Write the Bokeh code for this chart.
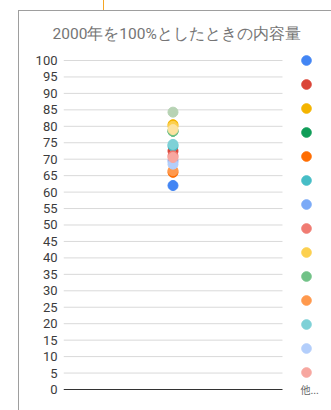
from bokeh.plotting import figure
from bokeh.models import (Legend, LegendItem, Range1d, ColumnDataSource, FixedTicker, Label,
                          InlineStyleSheet)
from bokeh.embed import file_html
from bokeh.resources import INLINE

title = "2000年を100%としたときの内容量"
# series shown in the legend
series_names = ["系列1", "系列2", "系列3", "系列4", "系列5", "系列6", "系列7",
                "系列8", "系列9", "系列10", "系列11", "系列12", "系列13", "系列14"]
series_values = [62.0, 72.5, 80.5, 78.5, 66.0, 74.0, 69.5,
                 71.0, 80.0, 78.5, 66.5, 74.5, 68.5, 70.5]
series_colors = ["#4285F4", "#DB4437", "#F4B400", "#0F9D58", "#FF6D01", "#46BDC6", "#7BAAF7",
                 "#F07B72", "#FCD04F", "#71C287", "#FF994D", "#7ED1D7", "#B3CEFB", "#F7A7A0"]
# further series folded into "他..."
extra_names = ["系列15", "系列16"]
extra_values = [79.0, 84.3]
extra_colors = ["#FCE3A0", "#B7D3B4"]
y_ticks = list(range(0, 101, 5))
more_label = "他..."

# frame spans x 63..331, y 48..410; plot area (gridlines) spans x -1..1, y 0..100
p = figure(width=331, height=410, output_backend="svg", toolbar_location=None,
           x_range=Range1d(-1, 1.4475), y_range=Range1d(-6.383, 103.647),
           min_border_left=63, min_border_right=0, min_border_top=48, min_border_bottom=0)
p.outline_line_color = None
p.background_fill_color = "white"
p.border_fill_color = "white"
p.border_fill_alpha = 0
p.stylesheets = [InlineStyleSheet(css=""":host {
  background:
    linear-gradient(#9e9e9e, #9e9e9e) 18px 10px / 1px 400px no-repeat,
    linear-gradient(#9e9e9e, #9e9e9e) 18px 10px / 313px 1px no-repeat,
    linear-gradient(#f5a623, #f5a623) 103px 0px / 1px 10px no-repeat,
    white;
}""")]

p.title.text = title
p.title.align = "left"
p.title.offset = -11
p.title.standoff = 12
p.title.text_font = "Roboto"
p.title.text_font_size = "15.5px"
p.title.text_font_style = "normal"
p.title.text_color = "#757575"

p.xaxis.visible = False
p.yaxis.ticker = FixedTicker(ticks=y_ticks)
p.yaxis.axis_line_color = None
p.yaxis.major_tick_line_color = None
p.yaxis.major_tick_out = 0
p.yaxis.major_tick_in = 0
p.yaxis.minor_tick_line_color = None
p.yaxis.major_label_text_font = "Roboto"
p.yaxis.major_label_text_font_size = "13px"
p.yaxis.major_label_text_color = "#3c3c3c"
p.yaxis.major_label_standoff = 6
p.xgrid.grid_line_color = None
p.ygrid.grid_line_color = None

# gridlines across the plot area only
grid_y = [t for t in y_ticks if t != 0]
p.segment(x0=-1, x1=1, y0=grid_y, y1=grid_y, line_color="#d9d9d9", line_width=1)
p.segment(x0=[-1], x1=[1], y0=[0], y1=[0], line_color="#333333", line_width=1.2)

items = []
for name, val, col in zip(series_names, series_values, series_colors):
    src = ColumnDataSource(dict(x=[0], y=[val], name=[name]))
    r = p.scatter("x", "y", source=src, size=10, fill_color=col, line_color=col)
    items.append(LegendItem(label=" ", renderers=[r]))

for name, val, col in zip(extra_names, extra_values, extra_colors):
    src = ColumnDataSource(dict(x=[0], y=[val], name=[name]))
    p.scatter("x", "y", source=src, size=10, fill_color=col, line_color=col)

legend = Legend(items=items, location=(219, 26), glyph_width=48, glyph_height=24,
                spacing=0, padding=0, margin=0, label_standoff=0,
                label_text_font_size="1px",
                border_line_color=None, background_fill_alpha=0)
p.add_layout(legend, "center")

more = Label(x=1.164, y=0, text=more_label, text_font="Noto Sans CJK JP",
             text_font_size="10px", text_color="#666666", text_baseline="middle")
p.add_layout(more)

open("out.html", "w").write(file_html(p, INLINE))
